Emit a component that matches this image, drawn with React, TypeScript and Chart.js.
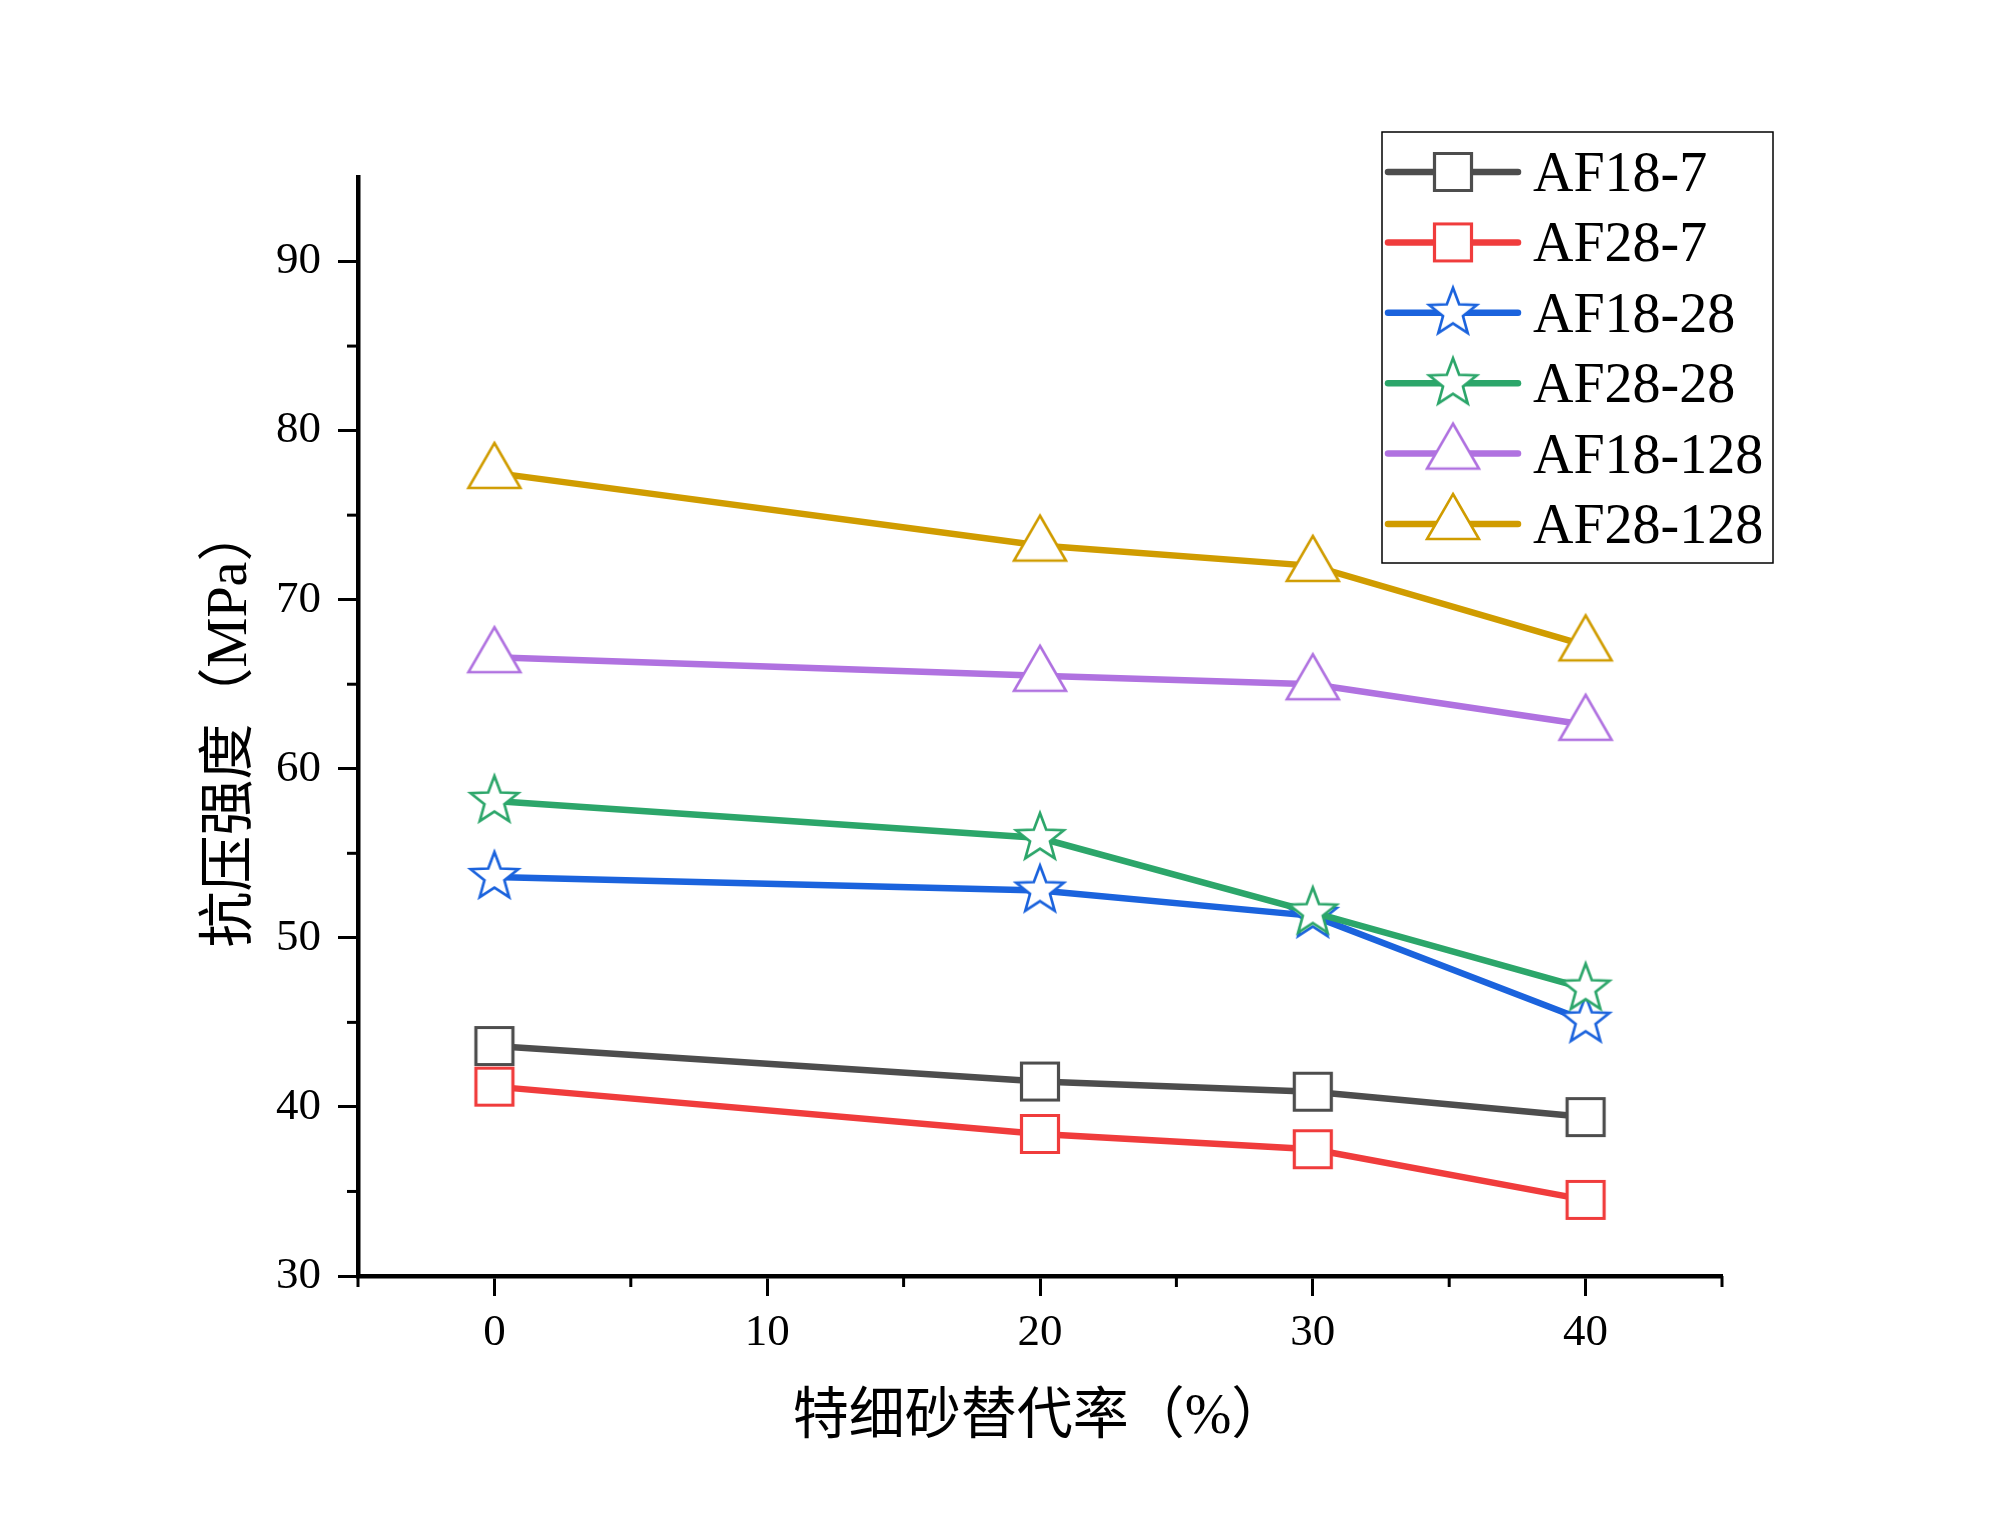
import React, { useEffect, useRef } from 'react';
import { Chart, registerables } from 'chart.js';

Chart.register(...registerables);

// replacement rate of extra-fine sand (%)
const replaceRates = [0, 20, 30, 40];

const seriesNames = ['AF18-7', 'AF28-7', 'AF18-28', 'AF28-28', 'AF18-128', 'AF28-128'];

// compressive strength (MPa)
const af18d7 = [43.6, 41.5, 40.9, 39.4];
const af28d7 = [41.2, 38.4, 37.5, 34.5];
const af18d28 = [53.6, 52.8, 51.3, 45.1];
const af28d28 = [58.1, 55.9, 51.5, 47.0];
const af18d128 = [66.6, 65.5, 65.0, 62.6];
const af28d128 = [77.5, 73.2, 72.0, 67.3];

const seriesValues = [af18d7, af28d7, af18d28, af28d28, af18d128, af28d128];
const seriesColors = ['#4d4d4d', '#f03c3c', '#1b63dd', '#2ca66a', '#b072e0', '#d09c00'];
const seriesMarkers = ['square', 'square', 'star', 'star', 'triangle', 'triangle'];

const xTitle = '特细砂替代率（%）';
const yTitle = '抗压强度（MPa）';

const FONT = "'Liberation Serif', 'Noto Sans CJK SC', serif";

// open marker with white fill, drawn once and reused as point style
function makeMarker(shape: string, color: string) {
  const c = document.createElement('canvas');
  c.width = 72;
  c.height = 72;
  const g = c.getContext('2d')!;
  const cx = 36;
  const cy = 36;
  g.beginPath();
  if (shape === 'square') {
    g.rect(cx - 18.5, cy - 18.5, 37, 37);
    g.lineWidth = 3.2;
  } else if (shape === 'triangle') {
    const r = 30;
    g.moveTo(cx, cy - r);
    g.lineTo(cx + r * Math.sin(Math.PI / 3), cy + r / 2);
    g.lineTo(cx - r * Math.sin(Math.PI / 3), cy + r / 2);
    g.closePath();
    g.lineWidth = 2.6;
  } else {
    const R = 25;
    const r = 10.5;
    for (let i = 0; i < 10; i++) {
      const a = -Math.PI / 2 + (i * Math.PI) / 5;
      const rr = i % 2 === 0 ? R : r;
      const px = cx + rr * Math.cos(a);
      const py = cy + rr * Math.sin(a);
      if (i === 0) g.moveTo(px, py);
      else g.lineTo(px, py);
    }
    g.closePath();
    g.lineWidth = 2.7;
  }
  g.fillStyle = '#fff';
  g.fill();
  g.strokeStyle = color;
  g.stroke();
  return c;
}

// short minor ticks between the labelled ones
const minorTicks = {
  id: 'minorTicks',
  afterDraw(chart: any) {
    const { ctx, chartArea, scales } = chart;
    ctx.save();
    ctx.strokeStyle = '#000';
    ctx.lineWidth = 3;
    for (let v = -5; v <= 45; v += 10) {
      const x = scales.x.getPixelForValue(v);
      ctx.beginPath();
      ctx.moveTo(x, chartArea.bottom);
      ctx.lineTo(x, chartArea.bottom + 11);
      ctx.stroke();
    }
    for (let v = 35; v <= 85; v += 10) {
      const y = scales.y.getPixelForValue(v);
      ctx.beginPath();
      ctx.moveTo(chartArea.left, y);
      ctx.lineTo(chartArea.left - 11, y);
      ctx.stroke();
    }
    ctx.restore();
  },
};

// boxed legend with line + marker samples
const boxLegend = {
  id: 'boxLegend',
  afterDraw(chart: any) {
    const { ctx } = chart;
    const left = 1382;
    const top = 132;
    const width = 391;
    const height = 431;
    ctx.save();
    ctx.strokeStyle = '#000';
    ctx.lineWidth = 1.5;
    ctx.strokeRect(left, top, width, height);
    chart.data.datasets.forEach((ds: any, i: number) => {
      const y = 172 + i * 70.4;
      ctx.strokeStyle = ds.borderColor;
      ctx.lineWidth = 6.5;
      ctx.lineCap = 'round';
      ctx.beginPath();
      ctx.moveTo(1388, y);
      ctx.lineTo(1518, y);
      ctx.stroke();
      const img = ds.pointStyle as HTMLCanvasElement;
      ctx.drawImage(img, 1453 - img.width / 2, y - img.height / 2);
      ctx.fillStyle = '#000';
      ctx.font = `56px ${FONT}`;
      ctx.textAlign = 'left';
      ctx.textBaseline = 'alphabetic';
      ctx.fillText(ds.label, 1533, y + 19);
    });
    ctx.restore();
  },
};

const App: React.FC = () => {
  const canvasRef = useRef<HTMLCanvasElement>(null);
  const chartRef = useRef<Chart | null>(null);

  useEffect(() => {
    document.body.style.margin = '0';
    document.body.style.overflow = 'hidden';
    if (!canvasRef.current) return;
    if (chartRef.current) chartRef.current.destroy();

    Chart.defaults.font.family = FONT;
    Chart.defaults.color = '#000';

    const datasets = seriesNames.map((name, i) => ({
      label: name,
      data: replaceRates.map((x, j) => ({ x, y: seriesValues[i][j] })),
      borderColor: seriesColors[i],
      backgroundColor: seriesColors[i],
      borderWidth: 6.5,
      tension: 0,
      pointStyle: makeMarker(seriesMarkers[i], seriesColors[i]),
      pointRadius: 26,
      order: -i,
    }));

    chartRef.current = new Chart(canvasRef.current, {
      type: 'line',
      data: { datasets } as any,
      options: {
        responsive: false,
        animation: false,
        devicePixelRatio: 1,
        layout: { padding: { top: 177, right: 277, left: 0, bottom: 0 } },
        plugins: {
          legend: { display: false },
          tooltip: { enabled: false },
        },
        scales: {
          x: {
            type: 'linear',
            min: -5,
            max: 45,
            afterFit: (s: any) => {
              s.height = 254;
            },
            ticks: {
              stepSize: 5,
              autoSkip: false,
              maxRotation: 0,
              padding: 10,
              color: '#000',
              font: { size: 45 },
              callback: (v: any) => (Number(v) % 10 === 0 ? String(v) : ''),
            },
            grid: {
              drawOnChartArea: false,
              tickLength: 20,
              tickWidth: 3,
              tickColor: (c: any) => (c.tick && c.tick.value % 10 === 0 ? '#000' : 'rgba(0,0,0,0)'),
            },
            border: { display: true, color: '#000', width: 4.5 },
            title: {
              display: true,
              text: xTitle,
              color: '#000',
              font: { size: 56 },
              padding: { top: 0, bottom: 78 },
            },
          },
          y: {
            min: 30,
            max: 95,
            afterFit: (s: any) => {
              s.width = 358;
            },
            ticks: {
              stepSize: 5,
              autoSkip: false,
              padding: 17,
              color: '#000',
              font: { size: 45 },
              callback: (v: any) => (Number(v) % 10 === 0 && Number(v) < 95 ? String(v) : ''),
            },
            grid: {
              drawOnChartArea: false,
              tickLength: 20,
              tickWidth: 3,
              tickColor: (c: any) =>
                c.tick && c.tick.value % 10 === 0 && c.tick.value < 95 ? '#000' : 'rgba(0,0,0,0)',
            },
            border: { display: true, color: '#000', width: 4.5 },
            title: {
              display: true,
              text: yTitle,
              color: '#000',
              font: { size: 56 },
              padding: { top: 198, bottom: 0 },
            },
          },
        },
      },
      plugins: [minorTicks, boxLegend],
    });

    return () => {
      if (chartRef.current) {
        chartRef.current.destroy();
        chartRef.current = null;
      }
    };
  }, []);

  return (
    <div style={{ position: 'absolute', left: 0, top: 0, width: 1999, height: 1530, background: '#fff' }}>
      <canvas ref={canvasRef} width={1999} height={1530} style={{ width: 1999, height: 1530 }} />
    </div>
  );
};

export default App;
